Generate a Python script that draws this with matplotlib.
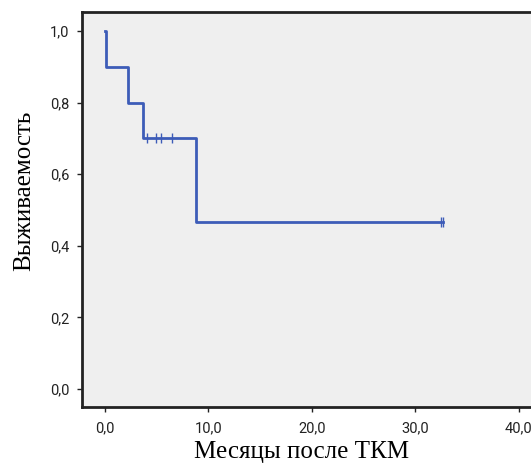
import numpy as np
import matplotlib.pyplot as plt

# Kaplan-Meier steps (months, survival)
step_t = [0.0, 0.1, 2.2, 3.7, 8.8, 32.7]
step_s = [1.0, 0.9, 0.8, 0.7, 0.467, 0.467]
# censored observations
cens_t = [4.1, 4.9, 5.4, 6.5, 32.5, 32.7]
cens_s = [0.7, 0.7, 0.7, 0.7, 0.467, 0.467]

xticks = [0, 10, 20, 30, 40]
yticks = [0.0, 0.2, 0.4, 0.6, 0.8, 1.0]

fig = plt.figure(figsize=(5.31, 4.66), dpi=100)
ax = fig.add_axes([0.1544, 0.1266, 0.8456, 0.8476])
ax.set_facecolor('#efefef')

col = '#3d5cb8'
ax.step(step_t, step_s, where='post', color=col, lw=2.0)
ax.plot(cens_t, cens_s, ls='none', marker='|', ms=7, mew=1.0, color=col)

ax.set_xlim(-2.22, 41.2)
ax.set_ylim(-0.05, 1.053)
ax.set_xticks(xticks)
ax.set_yticks(yticks)
ax.set_xticklabels([('%.1f' % v).replace('.', ',') for v in xticks],
                   family='Roboto', fontsize=10.5, color='#222222')
ax.set_yticklabels([('%.1f' % v).replace('.', ',') for v in yticks],
                   family='Roboto', fontsize=10.5, color='#222222')
ax.tick_params(direction='out', length=3.6, width=1.0, color='#222222')
ax.tick_params(axis='y', pad=5.5)
ax.tick_params(axis='x', pad=6.5)

for s in ['left', 'bottom', 'top']:
    ax.spines[s].set_linewidth(2.0)
    ax.spines[s].set_color('#222222')
ax.spines['right'].set_visible(False)

ax.set_xlabel('Месяцы после ТКМ', family='Liberation Serif', fontsize=18)
ax.set_ylabel('Выживаемость', family='Liberation Serif', fontsize=18)
ax.xaxis.set_label_coords(0.488, -0.086)
ax.yaxis.set_label_coords(-0.105, 0.547)

fig.savefig('out.png', dpi=100)
